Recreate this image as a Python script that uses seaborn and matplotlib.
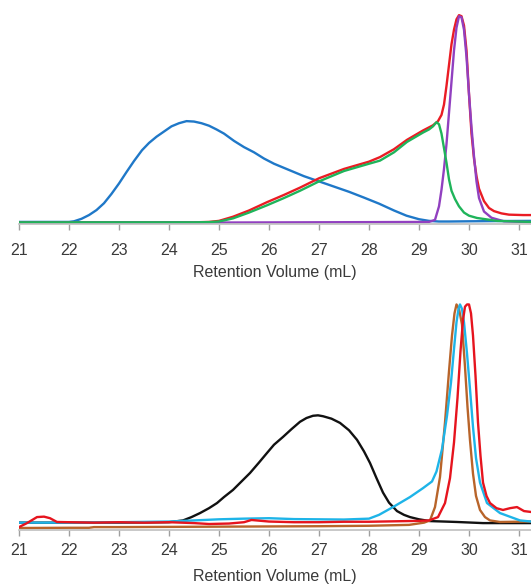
import numpy as np
import pandas as pd
import matplotlib
matplotlib.use('Agg')
import matplotlib.pyplot as plt
import seaborn as sns

# ---- top panel traces (normalised signal vs retention volume, mL) ----
blue_x = [21.0, 22.0, 22.1, 22.25, 22.4, 22.55, 22.7, 22.85, 23.0, 23.15, 23.3, 23.46, 23.6, 23.75,
          23.9, 24.05, 24.2, 24.35, 24.5, 24.65, 24.8, 24.95, 25.1, 25.3, 25.5, 25.7, 25.9, 26.1,
          26.4, 26.7, 27.0, 27.3, 27.6, 27.9, 28.2, 28.5, 28.75, 29.0, 29.2, 29.4, 29.6, 30.0,
          30.5, 31.24]
blue_y = [0.005, 0.005, 0.008, 0.02, 0.038, 0.062, 0.095, 0.14, 0.19, 0.245, 0.298, 0.35, 0.385, 0.415,
          0.44, 0.465, 0.48, 0.49, 0.488, 0.48, 0.468, 0.45, 0.43, 0.395, 0.365, 0.34, 0.31, 0.285,
          0.255, 0.225, 0.2, 0.175, 0.15, 0.122, 0.093, 0.06, 0.035, 0.018, 0.01, 0.007, 0.007, 0.008,
          0.009, 0.01]

red_top_x = [21.0, 24.5, 24.8, 25.0, 25.28, 25.6, 25.96, 26.3, 26.62, 27.0, 27.5, 28.0, 28.22, 28.5,
             28.76, 29.08, 29.28, 29.38, 29.45, 29.5, 29.55, 29.6, 29.65, 29.7, 29.75, 29.8, 29.85,
             29.9, 29.95, 30.0, 30.05, 30.1, 30.15, 30.2, 30.3, 30.4, 30.5, 30.65, 30.8, 31.08, 31.24]
red_top_y = [0.003, 0.003, 0.005, 0.01, 0.03, 0.06, 0.1, 0.135, 0.17, 0.215, 0.26, 0.295, 0.317, 0.355,
             0.40, 0.445, 0.47, 0.49, 0.52, 0.57, 0.66, 0.76, 0.86, 0.93, 0.98, 1.0, 0.995,
             0.95, 0.83, 0.62, 0.43, 0.31, 0.225, 0.165, 0.105, 0.072, 0.057, 0.046, 0.04, 0.038, 0.038]

green_x = [21.0, 24.5, 24.8, 25.0, 25.28, 25.6, 25.96, 26.3, 26.62, 27.0, 27.5, 28.0, 28.22, 28.5,
           28.76, 29.08, 29.2, 29.28, 29.35, 29.4, 29.45, 29.5, 29.55, 29.6, 29.65, 29.72, 29.8,
           29.9, 30.0, 30.16, 30.56, 31.24]
green_y = [0.003, 0.003, 0.004, 0.007, 0.022, 0.05, 0.085, 0.12, 0.155, 0.2, 0.25, 0.285, 0.30, 0.34,
           0.39, 0.435, 0.45, 0.465, 0.485, 0.475, 0.43, 0.36, 0.29, 0.21, 0.155, 0.115, 0.08,
           0.05, 0.035, 0.024, 0.01, 0.005]

purple_x = [21.0, 25.0, 28.0, 29.2, 29.32, 29.4, 29.45, 29.5, 29.55, 29.6, 29.65, 29.7, 29.75, 29.8,
            29.85, 29.9, 29.95, 30.0, 30.05, 30.1, 30.15, 30.2, 30.3, 30.45, 30.7, 31.24]
purple_y = [0.002, 0.002, 0.004, 0.005, 0.015, 0.08, 0.16, 0.26, 0.38, 0.53, 0.68, 0.83, 0.94, 0.995,
            0.99, 0.93, 0.8, 0.62, 0.46, 0.32, 0.2, 0.12, 0.055, 0.025, 0.008, 0.004]

# ---- bottom panel traces ----
black_x = [21.0, 22.0, 23.0, 24.0, 24.28, 24.45, 24.62, 24.8, 24.96, 25.1, 25.28, 25.45, 25.62, 25.8,
           25.96, 26.1, 26.28, 26.45, 26.62, 26.75, 26.88, 26.98, 27.08, 27.25, 27.42, 27.6, 27.76,
           27.9, 28.02, 28.15, 28.28, 28.4, 28.56, 28.7, 28.82, 29.0, 29.22, 29.5, 29.76, 30.28,
           30.48, 31.24]
black_y = [0.02, 0.02, 0.02, 0.022, 0.03, 0.045, 0.063, 0.085, 0.108, 0.135, 0.167, 0.205, 0.243, 0.29,
           0.333, 0.37, 0.405, 0.44, 0.473, 0.49, 0.50, 0.502, 0.498, 0.487, 0.468, 0.435, 0.392,
           0.34, 0.288, 0.22, 0.155, 0.11, 0.072, 0.055, 0.045, 0.035, 0.027, 0.025, 0.023, 0.018,
           0.018, 0.018]

cyan_x = [21.0, 22.0, 23.0, 24.0, 24.5, 25.0, 25.5, 26.0, 26.5, 27.0, 27.5, 28.0, 28.2, 28.48, 28.82,
          29.08, 29.26, 29.35, 29.46, 29.56, 29.64, 29.7, 29.75, 29.79, 29.82, 29.86, 29.9, 29.96,
          30.02, 30.08, 30.14, 30.22, 30.36, 30.62, 31.02, 31.24]
cyan_y = [0.02, 0.02, 0.022, 0.025, 0.03, 0.035, 0.038, 0.04, 0.036, 0.035, 0.034, 0.038, 0.055, 0.09,
          0.135, 0.175, 0.205, 0.25, 0.35, 0.5, 0.65, 0.8, 0.92, 0.98, 1.0, 0.98, 0.92, 0.78,
          0.62, 0.45, 0.31, 0.2, 0.108, 0.063, 0.03, 0.025]

brown_x = [21.0, 22.0, 22.4, 22.5, 23.0, 25.0, 27.0, 28.0, 28.8, 29.1, 29.22, 29.32, 29.42, 29.52,
           29.6, 29.66, 29.71, 29.75, 29.8, 29.86, 29.92, 29.97, 30.02, 30.08, 30.14, 30.22, 30.32,
           30.42, 30.62, 31.24]
brown_y = [-0.004, -0.003, -0.003, 0.0, 0.0, 0.002, 0.004, 0.006, 0.01, 0.02, 0.03, 0.09, 0.225, 0.47,
           0.7, 0.86, 0.96, 1.0, 0.98, 0.91, 0.72, 0.54, 0.39, 0.24, 0.14, 0.077, 0.045,
           0.03, 0.023, 0.025]

red_bot_x = [21.0, 21.16, 21.36, 21.5, 21.62, 21.76, 22.0, 22.5, 23.0, 23.5, 24.0, 24.5, 24.8, 25.2,
             25.5, 25.65, 26.0, 26.5, 27.0, 27.5, 28.0, 28.5, 29.0, 29.2, 29.38, 29.52, 29.62, 29.7,
             29.77, 29.83, 29.88, 29.92, 29.96, 30.0, 30.04, 30.08, 30.13, 30.18, 30.23, 30.28, 30.35,
             30.42, 30.55, 30.68, 30.82, 30.96, 31.1, 31.24]
red_bot_y = [0.0, 0.018, 0.045, 0.047, 0.04, 0.023, 0.022, 0.02, 0.022, 0.02, 0.022, 0.018, 0.014, 0.016,
             0.022, 0.032, 0.025, 0.022, 0.022, 0.024, 0.024, 0.026, 0.028, 0.03, 0.045, 0.108, 0.22, 0.38,
             0.58, 0.79, 0.93, 0.99, 1.0, 1.0, 0.96, 0.86, 0.68, 0.47, 0.32, 0.2, 0.14,
             0.108, 0.085, 0.077, 0.085, 0.09, 0.072, 0.068]

ticks = list(range(21, 32))
xlabel = 'Retention Volume (mL)'

sns.set_style('white')
plt.rcParams['font.family'] = ['Liberation Sans', 'DejaVu Sans']

W, H = 531, 586
fig = plt.figure(figsize=(W / 100, H / 100), dpi=100)


def px_axes(left, top, right, bottom):
    # axes box given in pixel coords of the 531x586 canvas
    return fig.add_axes([left / W, 1 - bottom / H, (right - left) / W, (bottom - top) / H])


ax1 = px_axes(19, 11, 531, 224)
ax2 = px_axes(19, 300, 531, 530)

top_traces = [(blue_x, blue_y, '#1f78c8'), (red_top_x, red_top_y, '#ea1c24'),
              (purple_x, purple_y, '#9140c0'), (green_x, green_y, '#1fb45a')]
bot_traces = [(black_x, black_y, '#111111'), (brown_x, brown_y, '#b8642a'),
              (cyan_x, cyan_y, '#1eb4e8'), (red_bot_x, red_bot_y, '#e6141e')]

panels = [(ax1, top_traces, (-0.005, 1.02), 10, 5),
          (ax2, bot_traces, (-0.013, 1.02), 5.5, 8)]

for ax, traces, ylim, tpad, lpad in panels:
    for x, y, c in traces:
        sns.lineplot(x=x, y=y, color=c, lw=1.7, ax=ax, sort=False)
    ax.set_xlim(21, 31.24)
    ax.set_ylim(*ylim)
    ax.set_yticks([])
    ax.set_xticks(ticks)
    ax.set_xticklabels([str(t) for t in ticks], fontsize=11.5, color='#3a3a3a')
    ax.tick_params(axis='x', direction='out', length=4, width=1, color='#a0a0a0', pad=tpad, bottom=True)
    for s in ['top', 'left', 'right']:
        ax.spines[s].set_visible(False)
    ax.spines['bottom'].set_color('#bfbfbf')
    ax.spines['bottom'].set_linewidth(1.2)
    ax.set_xlabel(xlabel, fontsize=11.5, color='#3a3a3a', labelpad=lpad)
    ax.set_ylabel('')
    ax.patch.set_alpha(0)

fig.savefig('out.png', dpi=100)
